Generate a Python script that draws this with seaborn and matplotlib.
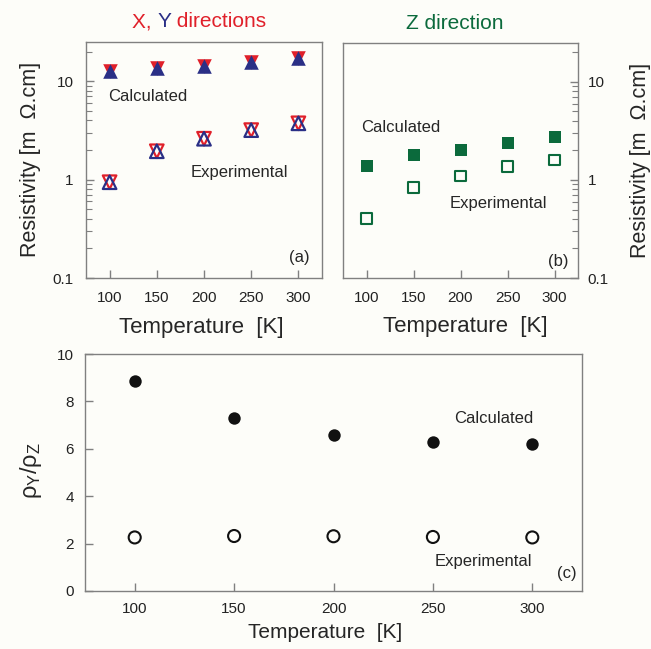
import numpy as np
import pandas as pd
import matplotlib
matplotlib.use('Agg')
import matplotlib.pyplot as plt
import seaborn as sns
from matplotlib.ticker import LogLocator, NullFormatter, FixedLocator
from matplotlib.offsetbox import TextArea, HPacker, AnnotationBbox

# data
temps = [100, 150, 200, 250, 300]
xy_calc = [12.7, 13.5, 14.1, 15.5, 17.2]
xy_exp = [0.94, 1.94, 2.6, 3.18, 3.73]
z_calc = [1.40, 1.80, 2.0, 2.37, 2.73]
z_exp = [0.406, 0.835, 1.10, 1.37, 1.60]
ratio_calc = [8.87, 7.29, 6.6, 6.3, 6.19]
ratio_exp = [2.26, 2.32, 2.31, 2.28, 2.26]

red = '#e0202a'
blue = '#2a2f86'
green = '#0b6a3c'
bg = '#fdfdf9'
spine = '#808080'

sns.set_theme(style='ticks')
plt.rcParams['font.family'] = ['Liberation Sans', 'DejaVu Sans']
plt.rcParams['mathtext.fontset'] = 'custom'
plt.rcParams['mathtext.rm'] = 'Liberation Sans'
plt.rcParams['mathtext.it'] = 'Liberation Sans'

df_xy = pd.DataFrame({'T': temps, 'calc': xy_calc, 'exp': xy_exp})
df_z = pd.DataFrame({'T': temps, 'calc': z_calc, 'exp': z_exp})
df_r = pd.DataFrame({'T': temps, 'calc': ratio_calc, 'exp': ratio_exp})

fig = plt.figure(figsize=(6.51, 6.49), dpi=100, facecolor=bg)
ax_a = fig.add_axes([86/651, 1-278/649, 236/651, 236/649])
ax_b = fig.add_axes([343/651, 1-278/649, 235/651, 235/649])
ax_c = fig.add_axes([85/651, 1-591/649, 497/651, 237/649])

for ax in (ax_a, ax_b, ax_c):
    ax.set_facecolor(bg)
    for s in ax.spines.values():
        s.set_color(spine)
        s.set_linewidth(1.0)
        s.set_visible(True)
    ax.tick_params(direction='in', color=spine, labelcolor='#222222')
    ax.set_xlim(75, 325)
    ax.set_xticks(temps)

# (a) X, Y directions
sns.scatterplot(data=df_xy, x='T', y='calc', marker='v', s=110, color=red, linewidth=0, ax=ax_a)
sns.scatterplot(data=df_xy, x='T', y='calc', marker='^', s=110, color=blue, linewidth=0, ax=ax_a)
sns.scatterplot(data=df_xy, x='T', y='exp', marker='v', s=95, facecolor='none', edgecolor=red, linewidth=1.6, ax=ax_a)
sns.scatterplot(data=df_xy, x='T', y='exp', marker='^', s=95, facecolor='none', edgecolor=blue, linewidth=1.6, ax=ax_a)

# (b) Z direction
sns.scatterplot(data=df_z, x='T', y='calc', marker='s', s=64, color=green, linewidth=0, ax=ax_b)
sns.scatterplot(data=df_z, x='T', y='exp', marker='s', s=60, facecolor='none', edgecolor=green, linewidth=1.5, ax=ax_b)

for ax in (ax_a, ax_b):
    ax.set_yscale('log')
    ax.set_ylim(0.1, 25)
    ax.yaxis.set_major_locator(FixedLocator([0.1, 1, 10]))
    ax.set_yticklabels(['0.1', '1', '10'])
    ax.yaxis.set_minor_locator(LogLocator(base=10, subs=np.arange(2, 10)))
    ax.yaxis.set_minor_formatter(NullFormatter())
    ax.tick_params(axis='both', which='major', length=6, width=1, labelsize=11, pad=9)
    ax.tick_params(axis='y', which='minor', length=4, width=0.8, direction='in', color=spine)
    ax.set_xlabel('Temperature  [K]', fontsize=16, va='center')
    ax.xaxis.set_label_coords(0.49 if ax is ax_a else 0.52, -0.208)

ax_a.set_ylabel('Resistivity [m  \u03a9.cm]', fontsize=15.5, va='center')
ax_a.yaxis.set_label_coords(-0.237, 0.504)

ax_b.yaxis.tick_right()
ax_b.yaxis.set_label_position('right')
ax_b.tick_params(axis='y', which='both', left=False, right=True, pad=7)
ax_b.set_ylabel('Resistivity [m  \u03a9.cm]', fontsize=15.5, rotation=90, va='center')
ax_b.yaxis.set_label_coords(1.264, 0.502)

# title of (a) with coloured parts
parts = [TextArea('X, ', textprops=dict(color=red, fontsize=15)),
         TextArea('Y', textprops=dict(color=blue, fontsize=15)),
         TextArea(' directions', textprops=dict(color=red, fontsize=15))]
box = HPacker(children=parts, align='baseline', pad=0, sep=0)
ab = AnnotationBbox(box, (0.479, 1.085), xycoords='axes fraction', frameon=False,
                    box_alignment=(0.5, 0.5), annotation_clip=False)
ax_a.add_artist(ab)
ax_b.text(0.477, 1.085, 'Z direction', color=green, fontsize=15, ha='center', va='center',
          transform=ax_b.transAxes)

ax_a.text(0.093, 0.771, 'Calculated', fontsize=12, ha='left', va='center', transform=ax_a.transAxes)
ax_a.text(0.445, 0.445, 'Experimental', fontsize=12, ha='left', va='center', transform=ax_a.transAxes)
ax_a.text(0.949, 0.085, '(a)', fontsize=12, ha='right', va='center', transform=ax_a.transAxes)
ax_b.text(0.075, 0.64, 'Calculated', fontsize=12, ha='left', va='center', transform=ax_b.transAxes)
ax_b.text(0.455, 0.315, 'Experimental', fontsize=12, ha='left', va='center', transform=ax_b.transAxes)
ax_b.text(0.959, 0.072, '(b)', fontsize=12, ha='right', va='center', transform=ax_b.transAxes)

# (c) ratio
sns.scatterplot(data=df_r, x='T', y='calc', marker='o', s=80, color='#111111', linewidth=0, ax=ax_c)
sns.scatterplot(data=df_r, x='T', y='exp', marker='o', s=75, facecolor='none', edgecolor='#111111', linewidth=1.5, ax=ax_c)
ax_c.set_ylim(0, 10)
ax_c.set_yticks([0, 2, 4, 6, 8, 10])
ax_c.tick_params(axis='both', which='major', length=6, width=1, labelsize=11, pad=8)
ax_c.set_xlabel('Temperature  [K]', fontsize=15, va='center')
ax_c.xaxis.set_label_coords(0.483, -0.173)
ax_c.set_ylabel('$\\mathrm{\u03c1_Y/\u03c1_Z}$', fontsize=17, va='center')
ax_c.yaxis.set_label_coords(-0.109, 0.51)
ax_c.text(0.742, 0.726, 'Calculated', fontsize=12, ha='left', va='center', transform=ax_c.transAxes)
ax_c.text(0.704, 0.124, 'Experimental', fontsize=12, ha='left', va='center', transform=ax_c.transAxes)
ax_c.text(0.99, 0.072, '(c)', fontsize=12, ha='right', va='center', transform=ax_c.transAxes)

fig.savefig('out.png', dpi=100, facecolor=bg)
